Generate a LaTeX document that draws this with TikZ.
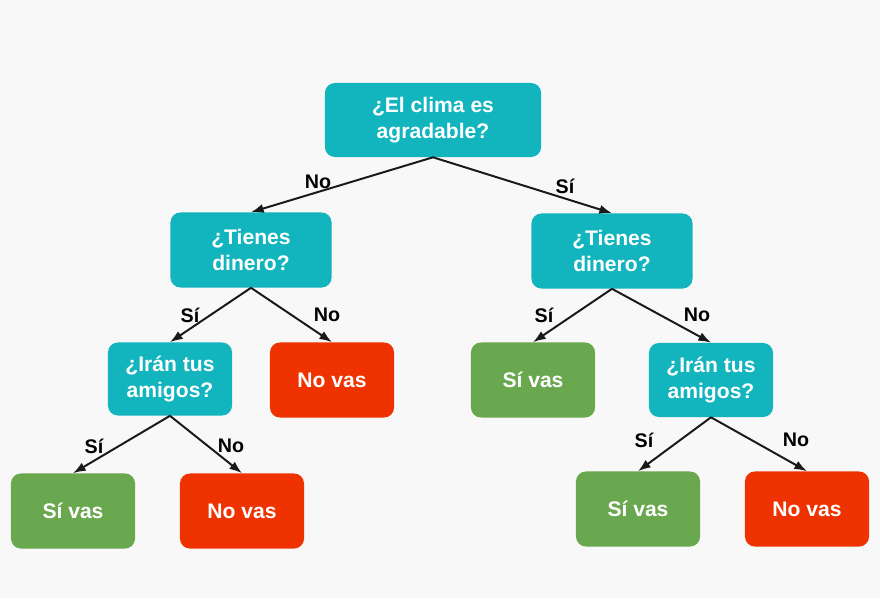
\documentclass[tikz,border=0pt]{standalone}
\usepackage{fontspec}
\setmainfont{Liberation Sans}
\usepackage{xcolor}
\definecolor{dtteal}{HTML}{12B4BE}
\definecolor{dtgreen}{HTML}{6AA84F}
\definecolor{dtred}{HTML}{EE3300}
\definecolor{dtbg}{HTML}{F8F8F8}
\usetikzlibrary{arrows.meta}

\begin{document}
\begin{tikzpicture}[>={Latex[length=9pt,width=6.5pt]},x=0.025cm,y=-0.025cm]
\tikzset{
 base/.style={rounded corners=7pt,text=white,font=\bfseries\fontsize{15}{18.5}\selectfont,align=center,inner sep=0pt,minimum height=1.875cm},
 qbox/.style={base,fill=dtteal,minimum width=4.025cm},
 yesbox/.style={base,fill=dtgreen,minimum width=3.1cm},
 nobox/.style={base,fill=dtred,minimum width=3.1cm},
 arrow/.style={->,line width=1.4pt,draw=black!90},
 lbl/.style={font=\bfseries\fontsize{14}{16}\selectfont,text=black,inner sep=0pt}
}
\fill[dtbg] (0,0) rectangle (880,598);
\useasboundingbox (0,0) rectangle (880,598);
% questions
\node[qbox,minimum width=5.4cm,minimum height=1.85cm] (clima) at (433,120) {¿El clima es\\agradable?};
\node[qbox] (dineroL) at (251,250) {¿Tienes\\dinero?};
\node[qbox] (dineroR) at (612,251) {¿Tienes\\dinero?};
\node[qbox,minimum width=3.1cm,minimum height=1.825cm] (amigosL) at (170,379) {¿Irán tus\\amigos?};
\node[qbox,minimum width=3.1cm,minimum height=1.85cm] (amigosR) at (711,380) {¿Irán tus\\amigos?};
% answers
\node[nobox] (noL) at (332,380) {No vas};
\node[yesbox] (siR) at (533,380) {Sí vas};
\node[yesbox] (siLL) at (73,511) {Sí vas};
\node[nobox] (noLL) at (242,511) {No vas};
\node[yesbox] (siRR) at (638,509) {Sí vas};
\node[nobox] (noRR) at (807,509) {No vas};
% connectors
\draw[arrow] (clima.south) -- (dineroL.north) node[lbl] at (318,182) {No};
\draw[arrow] (clima.south) -- (dineroR.north) node[lbl] at (565,186) {Sí};
\draw[arrow] (dineroL.south) -- (amigosL.north) node[lbl] at (190,315) {Sí};
\draw[arrow] (dineroL.south) -- (noL.north) node[lbl] at (327,315) {No};
\draw[arrow] (dineroR.south) -- (siR.north) node[lbl] at (544,315) {Sí};
\draw[arrow] (dineroR.south) -- (amigosR.north) node[lbl] at (697,315) {No};
\draw[arrow] (amigosL.south) -- (siLL.north) node[lbl] at (94,446) {Sí};
\draw[arrow] (amigosL.south) -- (noLL.north) node[lbl] at (231,446) {No};
\draw[arrow] (amigosR.south) -- (siRR.north) node[lbl] at (644,440) {Sí};
\draw[arrow] (amigosR.south) -- (noRR.north) node[lbl] at (796,440) {No};
\end{tikzpicture}
\end{document}
